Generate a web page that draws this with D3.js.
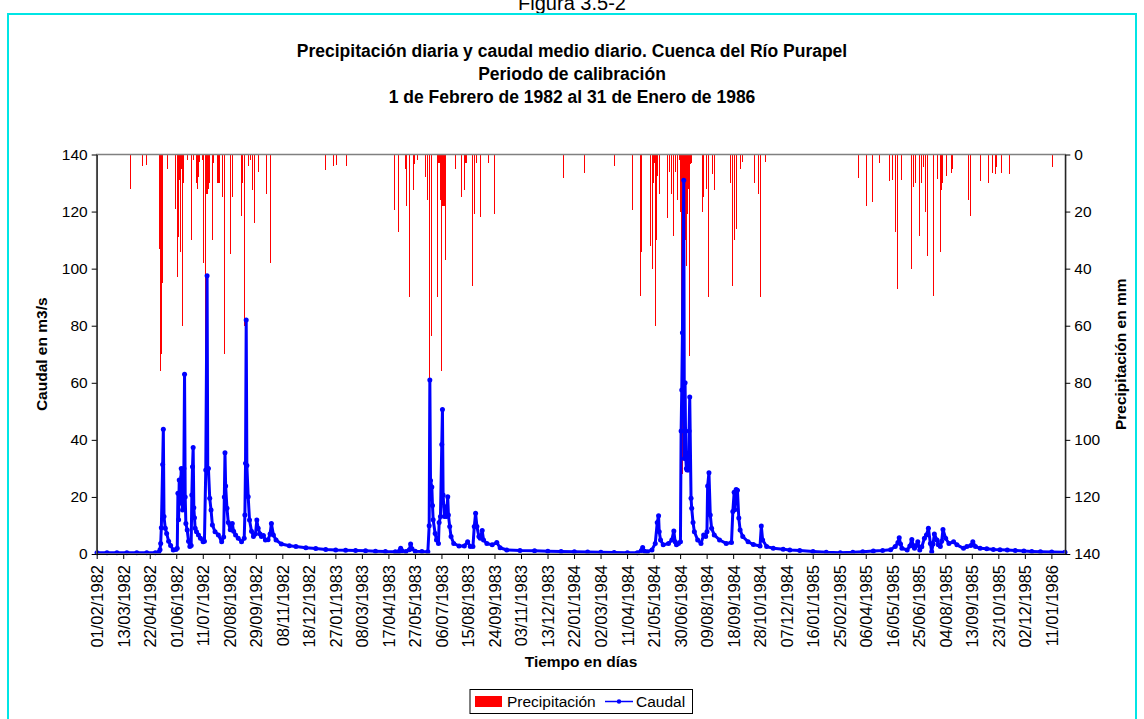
<!DOCTYPE html>
<html>
<head>
<meta charset="utf-8">
<script src="https://cdn.jsdelivr.net/npm/d3@7"></script>
<style>
  body { margin: 0; background: #fff; }
  svg { display: block; font-family: "Liberation Sans", Arial, sans-serif; }
</style>
</head>
<body>
<script>
(function (d3) {
  "use strict";

  /***** Données (jour = nombre de jours depuis le 01/02/1982) *****/
  var tickLabels = [
    "01/02/1982", "13/03/1982", "22/04/1982", "01/06/1982", "11/07/1982", "20/08/1982",
    "29/09/1982", "08/11/1982", "18/12/1982", "27/01/1983", "08/03/1983", "17/04/1983",
    "27/05/1983", "06/07/1983", "15/08/1983", "24/09/1983", "03/11/1983", "13/12/1983",
    "22/01/1984", "02/03/1984", "11/04/1984", "21/05/1984", "30/06/1984", "09/08/1984",
    "18/09/1984", "28/10/1984", "07/12/1984", "16/01/1985", "25/02/1985", "06/04/1985",
    "16/05/1985", "25/06/1985", "04/08/1985", "13/09/1985", "23/10/1985", "02/12/1985",
    "11/01/1986"
  ];
  var valueTicks = [0, 20, 40, 60, 80, 100, 120, 140];
  var totalDays = 1461;

  // Precipitación diaria [día, mm]
  var precip1982 = [
    [50, 12], [68, 4], [74, 1.5], [75, 3.7], [94, 33], [95, 66], [96, 76], [97, 70], [98, 45], [99, 44],
    [106, 5], [118, 19], [119, 5], [121, 43], [123, 29], [125, 9], [126, 34], [127, 5], [129, 60], [130, 10],
    [137, 2], [142, 28.5], [143, 30], [145, 2], [146, 1.5], [150, 10], [151, 12], [153, 8], [154, 2.5],
    [159, 2], [160, 20], [161, 38], [163, 85], [164, 30], [165, 14], [166, 14], [168, 12], [169, 10],
    [174, 30], [175, 3], [181, 10], [182, 5], [183, 10], [184, 10], [190, 15], [192, 70], [202, 35],
    [204, 5], [205, 15], [218, 21.5], [220, 10], [222, 60], [223, 3], [228, 4], [231, 2], [234, 12.5],
    [237, 10], [238, 24], [243, 6], [256, 14], [261, 38], [344, 5.4], [356, 4], [361, 3.8], [376, 4]
  ];
  var precip1983 = [
    [448, 19.3], [454, 27], [455, 5], [466, 5], [467, 18], [471, 50], [478, 12.3], [479, 3.5], [483, 2],
    [495, 6.5], [496, 8], [499, 16], [501, 79], [504, 63.5], [514, 50], [515, 3], [516, 3], [517, 3],
    [518, 16], [519, 76], [521, 18], [522, 18], [523, 3], [524, 18], [526, 37], [540, 5], [549, 15],
    [554, 3], [555, 12.3], [556, 3], [557, 3], [566, 46], [567, 8], [569, 21], [573, 3], [579, 22],
    [591, 3], [600, 21]
  ];
  var precip1984 = [
    [703, 8.3], [735, 6.5], [780, 4], [807, 19.3], [820, 49.5], [821, 34], [835, 32], [838, 40], [840, 10],
    [841, 3], [843, 60], [844, 30], [845, 7.5], [849, 14], [860, 22.3], [864, 6], [866, 14], [869, 28.4],
    [873, 6], [876, 16], [878, 2], [880, 20], [881, 63], [882, 34], [883, 112], [884, 34], [885, 30],
    [886, 34], [887, 30], [888, 28], [889, 39], [891, 21], [892, 12], [894, 70.5], [895, 3.5], [896, 3],
    [914, 20], [915, 15], [920, 12], [923, 50], [929, 7], [932, 12.3], [955, 10], [956, 6], [959, 46],
    [961, 30], [964, 11], [965, 26], [971, 5], [974, 2.5], [991, 10], [997, 14], [1000, 50], [1009, 2.5]
  ];
  var precip1985 = [
    [1149, 8.3], [1160, 18], [1169, 16.7], [1181, 3], [1196, 9.4], [1200, 9], [1204, 27], [1205, 18],
    [1207, 3], [1208, 47], [1214, 9], [1228, 40], [1229, 9], [1232, 11.5], [1234, 10], [1241, 28.4],
    [1243, 6.5], [1244, 10], [1246, 4.5], [1249, 20], [1250, 10.5], [1252, 35.4], [1261, 49.5],
    [1262, 6.5], [1267, 8.5], [1273, 34], [1274, 12.5], [1276, 10], [1282, 7.5], [1289, 6.5], [1291, 5],
    [1314, 15.8], [1318, 21.4], [1332, 9.4], [1345, 10], [1350, 6.5], [1355, 7], [1356, 4.5],
    [1365, 6.5], [1377, 7], [1441, 4.5]
  ];

  // Caudal medio diario [día, m3/s]
  var flow1982 = [
    [0, 0.45], [15, 0.45], [30, 0.4], [45, 0.4], [60, 0.4], [75, 0.4], [88, 0.4], [93, 0.6], [95, 1.5],
    [96, 3.7], [97, 9.2], [99, 31.4], [100, 43.7], [101, 13.1], [103, 9], [105, 7.2], [108, 4.5], [111, 3],
    [115, 1.4], [119, 1.6], [121, 2], [122, 21.3], [123, 12], [124, 25.9], [125, 17.8], [126, 21], [127, 30],
    [128, 27], [129, 15.4], [130, 22], [131, 30], [132, 63], [133, 20], [134, 10.7], [136, 8.4], [138, 4.5],
    [140, 2.6], [142, 3], [143, 20.7], [144, 30.6], [145, 37.3], [146, 16.2], [147, 12.7], [148, 9],
    [150, 7.8], [153, 6.7], [156, 5.5], [160, 4.3], [162, 4.5], [164, 29.4], [166, 97.5], [167, 30],
    [168, 30], [170, 19.5], [172, 15.4], [174, 10.2], [178, 7.8], [183, 6.7], [188, 4.3], [191, 6],
    [192, 20], [193, 35.5], [194, 23.8], [196, 16], [198, 11], [201, 8.5], [204, 10.7], [206, 8], [209, 6.7],
    [213, 5.5], [218, 4.3], [222, 5.5], [223, 13.7], [224, 31.8], [225, 82], [226, 31], [228, 20.1],
    [230, 11.9], [233, 8], [236, 6.1], [239, 7], [241, 11.9], [243, 9], [246, 7], [248, 6.1], [251, 6.5],
    [254, 4.9], [258, 5], [261, 7], [263, 10.7], [266, 6.7], [270, 4.9], [278, 3.5], [290, 2.9],
    [300, 2.6], [315, 2.2], [330, 1.9], [345, 1.6], [360, 1.4], [375, 1.3], [390, 1.2], [405, 1.1],
    [420, 1.0], [435, 0.85]
  ];
  var flow1983 = [
    [450, 0.8], [455, 0.8], [457, 1.2], [458, 2.0], [460, 1.1], [466, 0.9], [471, 1.5], [473, 3.5],
    [475, 1.8], [480, 1.0], [490, 0.85], [499, 0.8], [501, 9.9], [502, 61], [503, 25.8], [505, 23.5],
    [506, 17], [507, 12], [510, 7.2], [512, 4.9], [515, 3.7], [516, 11], [518, 13.1], [520, 38.4],
    [521, 50.6], [522, 20.7], [524, 13.1], [525, 16.6], [527, 13.1], [529, 20.1], [530, 13.7], [532, 9.6],
    [534, 6.1], [538, 3.7], [546, 2.8], [554, 2.8], [559, 4.3], [563, 2.6], [567, 2.6], [569, 9.6],
    [571, 14.3], [573, 9.6], [576, 6.1], [578, 5.5], [581, 8.2], [583, 4.9], [588, 3.7], [596, 3.2],
    [603, 4], [608, 2.2], [618, 1.4], [638, 1.2], [660, 1.1], [680, 1.0], [700, 0.9], [720, 0.8],
    [740, 0.7], [760, 0.6], [780, 0.5], [800, 0.45]
  ];
  var flow1984 = [
    [815, 0.45], [821, 1.2], [823, 2.3], [826, 1.0], [830, 0.8], [837, 1.4], [842, 3.7], [845, 11],
    [847, 13.4], [848, 7.8], [850, 4.9], [854, 3.2], [862, 3.7], [867, 4.9], [870, 8.1], [872, 4.3],
    [874, 3.2], [877, 3.7], [880, 4.3], [881, 43.1], [882, 57.5], [883, 77.5], [885, 131], [886, 33.5],
    [887, 60], [888, 33.5], [889, 30], [890, 29.4], [891, 35.3], [892, 29.4], [893, 43.1], [894, 55],
    [896, 19.5], [897, 16], [899, 11], [901, 7.8], [906, 4.9], [911, 3.7], [915, 6.7], [918, 6.1],
    [920, 7.8], [921, 23.8], [923, 28.5], [925, 13.7], [927, 9], [931, 6.7], [939, 4.9], [949, 3.7],
    [957, 4], [959, 14.9], [961, 21.6], [962, 15.5], [964, 22.6], [966, 22.3], [968, 12.6], [970, 8.4],
    [974, 6.1], [982, 4.3], [990, 3.3], [1000, 2.8], [1002, 9.8], [1004, 4.9], [1010, 2.6], [1020, 2],
    [1035, 1.7], [1045, 1.4], [1060, 1.2], [1080, 0.9], [1100, 0.6]
  ];
  var flow1985 = [
    [1121, 0.45], [1140, 0.6], [1155, 0.8], [1171, 1.05], [1185, 1.2], [1197, 1.5], [1204, 2.6],
    [1208, 4], [1210, 5.7], [1212, 3.5], [1214, 2.0], [1222, 1.4], [1226, 2.8], [1229, 5.1], [1231, 3],
    [1233, 2.0], [1236, 3], [1238, 4.3], [1241, 1.4], [1244, 2.5], [1248, 5.5], [1251, 6.7], [1254, 9.0],
    [1257, 3.7], [1259, 0.8], [1261, 3.5], [1263, 7.0], [1267, 4.9], [1269, 3.2], [1272, 2.6], [1274, 4.5],
    [1276, 8.6], [1280, 5.5], [1285, 3.7], [1292, 4.3], [1297, 3.2], [1307, 2.0], [1312, 2.6], [1318, 3],
    [1321, 4.3], [1325, 2.6], [1332, 2.0], [1342, 1.8], [1352, 1.6], [1362, 1.5], [1373, 1.4],
    [1385, 1.2], [1398, 1.05], [1410, 0.9], [1423, 0.8], [1440, 0.7], [1460, 0.6]
  ];

  var precipitation = precip1982.concat(precip1983, precip1984, precip1985);
  var flow = flow1982.concat(flow1983, flow1984, flow1985);

  /***** Configuration *****/
  var width = 1144, height = 719;
  var plot = { left: 96.7, right: 1065.3, top: 154.5, bottom: 554 };
  var fontSize = "15.5px";

  /***** Échelles *****/
  var parseDate = d3.utcParse("%d/%m/%Y");
  var startDate = parseDate(tickLabels[0]);
  var endDate = d3.utcDay.offset(startDate, totalDays);

  var xScale = d3.scaleUtc().domain([startDate, endDate]).range([plot.left, plot.right]);
  var yFlow = d3.scaleLinear().domain([0, 140]).range([plot.bottom, plot.top]);
  var yRain = d3.scaleLinear().domain([0, 140]).range([plot.top, plot.bottom]);
  var slot = (plot.right - plot.left) / totalDays;

  function dayX(day) {
    return xScale(d3.utcDay.offset(startDate, day)) + slot / 2;
  }

  var svg = d3.select("body").append("svg")
      .attr("width", width)
      .attr("height", height);

  svg.append("rect").attr("width", width).attr("height", height).attr("fill", "#fff");

  /***** Cadre et titres *****/
  svg.append("text")
      .attr("x", 572).attr("y", 10)
      .attr("text-anchor", "middle")
      .style("font-size", "20px")
      .text("Figura 3.5-2");

  svg.append("rect")
      .attr("x", 8).attr("y", 14)
      .attr("width", 1128).attr("height", 730)
      .attr("fill", "none")
      .attr("stroke", "#00e5e5")
      .attr("stroke-width", 2);

  var titleLines = [
    "Precipitación diaria y caudal medio diario. Cuenca del Río Purapel",
    "Periodo de calibración",
    "1 de Febrero de 1982 al 31 de Enero de 1986"
  ];
  svg.append("g").selectAll("text")
      .data(titleLines)
      .enter().append("text")
      .attr("x", 572)
      .attr("y", function (d, i) { return 57 + i * 23; })
      .attr("text-anchor", "middle")
      .style("font-size", "17.5px")
      .style("font-weight", "bold")
      .text(function (d) { return d; });

  /***** Barres de précipitation *****/
  svg.append("g")
      .attr("shape-rendering", "crispEdges")
      .selectAll("rect")
      .data(precipitation)
      .enter().append("rect")
      .attr("x", function (d) { return dayX(d[0]) - 0.5; })
      .attr("y", yRain(0))
      .attr("width", 1)
      .attr("height", function (d) { return yRain(d[1]) - yRain(0); })
      .attr("fill", "#ff0000");

  /***** Courbe de débit *****/
  var line = d3.line()
      .x(function (d) { return dayX(d[0]); })
      .y(function (d) { return yFlow(d[1]); });

  svg.append("path")
      .datum(flow)
      .attr("d", line)
      .attr("fill", "none")
      .attr("stroke", "#0000ff")
      .attr("stroke-width", 3)
      .attr("stroke-linejoin", "round");

  svg.append("g").selectAll("circle")
      .data(flow)
      .enter().append("circle")
      .attr("cx", function (d) { return dayX(d[0]); })
      .attr("cy", function (d) { return yFlow(d[1]); })
      .attr("r", 2.5)
      .attr("fill", "#0000ff");

  /***** Cadre du graphique *****/
  svg.append("rect")
      .attr("x", plot.left).attr("y", plot.top)
      .attr("width", plot.right - plot.left)
      .attr("height", plot.bottom - plot.top)
      .attr("fill", "none")
      .attr("stroke", "#808080")
      .attr("stroke-width", 1.5);

  /***** Axes *****/
  function styleAxis(g) {
    g.selectAll(".domain").attr("stroke", "#000");
    g.selectAll(".tick line").attr("stroke", "#000");
    g.selectAll("text").style("font-size", fontSize).attr("fill", "#000")
        .style("font-family", "'Liberation Sans', Arial, sans-serif");
  }

  var leftAxis = svg.append("g")
      .attr("transform", "translate(" + plot.left + ",0)")
      .call(d3.axisLeft(yFlow).tickValues(valueTicks).tickSize(5).tickSizeOuter(0).tickPadding(4));
  styleAxis(leftAxis);

  var rightAxis = svg.append("g")
      .attr("transform", "translate(" + plot.right + ",0)")
      .call(d3.axisRight(yRain).tickValues(valueTicks).tickSize(5).tickSizeOuter(0).tickPadding(4));
  styleAxis(rightAxis);

  var tickDates = tickLabels.map(parseDate);
  var bottomAxis = svg.append("g")
      .attr("transform", "translate(0," + plot.bottom + ")")
      .call(d3.axisBottom(xScale).tickValues(tickDates).tickSize(5).tickSizeOuter(0)
          .tickFormat(function (d, i) { return tickLabels[i]; }));
  styleAxis(bottomAxis);
  bottomAxis.selectAll(".tick text")
      .style("font-size", "16.5px")
      .attr("transform", "rotate(-90)")
      .attr("x", -11)
      .attr("y", 0)
      .attr("dy", "0.36em")
      .style("text-anchor", "end");

  /***** Titres des axes *****/
  svg.append("text")
      .attr("x", (plot.left + plot.right) / 2).attr("y", 667)
      .attr("text-anchor", "middle")
      .style("font-size", fontSize).style("font-weight", "bold")
      .text("Tiempo en días");

  svg.append("text")
      .attr("transform", "translate(47," + (plot.top + plot.bottom) / 2 + ") rotate(-90)")
      .attr("text-anchor", "middle")
      .style("font-size", fontSize).style("font-weight", "bold")
      .text("Caudal en m3/s");

  svg.append("text")
      .attr("transform", "translate(1126," + (plot.top + plot.bottom) / 2 + ") rotate(-90)")
      .attr("text-anchor", "middle")
      .style("font-size", fontSize).style("font-weight", "bold")
      .text("Precipitación en mm");

  /***** Légende *****/
  var legend = svg.append("g");
  legend.append("rect")
      .attr("x", 470).attr("y", 689.5)
      .attr("width", 222.5).attr("height", 24)
      .attr("fill", "#fff").attr("stroke", "#000");
  legend.append("rect")
      .attr("x", 475).attr("y", 696)
      .attr("width", 27).attr("height", 11)
      .attr("fill", "#ff0000");
  legend.append("text")
      .attr("x", 507).attr("y", 707)
      .style("font-size", fontSize)
      .text("Precipitación");
  legend.append("line")
      .attr("x1", 605).attr("x2", 633)
      .attr("y1", 701.5).attr("y2", 701.5)
      .attr("stroke", "#0000ff").attr("stroke-width", 1.5);
  legend.append("circle")
      .attr("cx", 619).attr("cy", 701.5).attr("r", 2.2)
      .attr("fill", "#0000ff");
  legend.append("text")
      .attr("x", 636).attr("y", 707)
      .style("font-size", fontSize)
      .text("Caudal");

})(d3);
</script>
</body>
</html>
